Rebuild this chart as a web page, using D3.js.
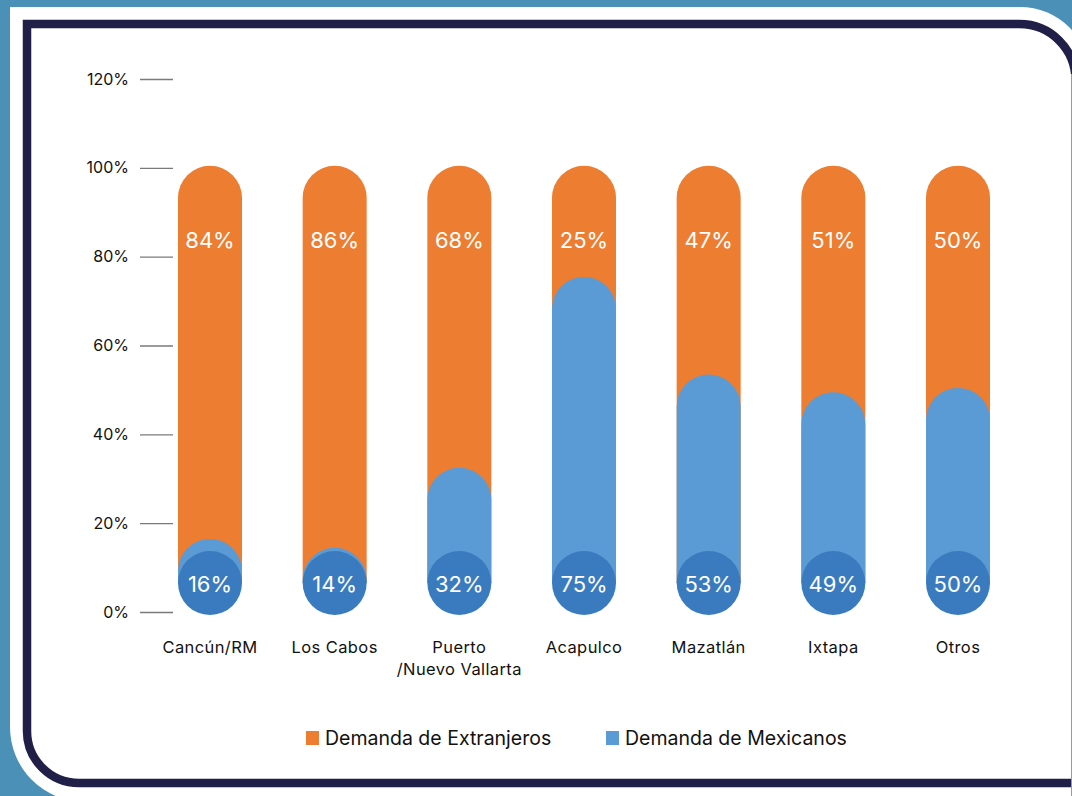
<!DOCTYPE html>
<html><head><meta charset="utf-8">
<script src="https://cdn.jsdelivr.net/npm/d3@7"></script>
<style>html,body{margin:0;padding:0;background:#4a90b7;}svg{display:block;}</style>
</head><body>
<svg id="c" width="1072" height="796"></svg>
<script>
const categories = ["Cancún/RM","Los Cabos","Puerto\n/Nuevo Vallarta","Acapulco","Mazatlán","Ixtapa","Otros"];
const extranjeros = [84,86,68,25,47,51,50];
const mexicanos = [16,14,32,75,53,49,50];
const yTicks = [0,20,40,60,80,100,120];
const seriesNames = ["Demanda de Extranjeros","Demanda de Mexicanos"];
const colors = {ext:"#ed7d31", mex:"#5b9bd5", circle:"#3a7bbf", navy:"#1f1f48", bg:"#4a90b7"};

const svg = d3.select("#c");
const W = 1072, H = 796;
const font = "Inter, 'Open Sans', sans-serif";

// background frame
svg.append("rect").attr("width",W).attr("height",H).attr("fill",colors.bg);
svg.append("path").attr("d","M10,7 H1020 A70,70 0 0 1 1090,77 V802 H85 A75,75 0 0 1 10,727 Z").attr("fill","#fff");
svg.append("path").attr("d","M27,24 H1019.5 A56,56 0 0 1 1075.5,80 V783 H79 A52,52 0 0 1 27,731 Z")
  .attr("fill","#fff").attr("stroke",colors.navy).attr("stroke-width",8.5);
svg.append("line").attr("x1",1071.5).attr("x2",1071.5).attr("y1",74).attr("y2",796)
  .attr("stroke","#9a9aa6").attr("stroke-width",1);

const y = d3.scaleLinear().domain([0,120]).range([612,79]);
const x = d3.scalePoint().domain(categories).range([210,958]);
const bw = 64, r = bw/2;
const circleY = y(0) - 29;

// y axis
const yAxis = d3.axisLeft(y).tickValues(yTicks).tickFormat(d=>d+"%").tickSize(33).tickPadding(11);
const ga = svg.append("g").attr("transform","translate(173,0)").call(yAxis);
ga.select(".domain").remove();
ga.selectAll(".tick line").attr("stroke","#7a7a7a").attr("stroke-width",1.3);
ga.selectAll(".tick text").attr("fill","#111").style("font-family",font).style("font-size","16px");

function capBar(cx, top, bottom){
  const x0 = cx - r, x1 = cx + r;
  return `M${x0},${bottom} L${x0},${top+r} A${r},${r} 0 0 1 ${x1},${top+r} L${x1},${bottom} Z`;
}

const data = categories.map((c,i)=>({c, e:extranjeros[i], m:mexicanos[i]}));
const g = svg.append("g");
g.selectAll("path.ext").data(data).join("path").attr("class","ext")
  .attr("d",d=>capBar(x(d.c), y(100)-2, circleY)).attr("fill",colors.ext);
g.selectAll("path.mex").data(data).join("path").attr("class","mex")
  .attr("d",d=>capBar(x(d.c), y(d.m)-2, circleY)).attr("fill",colors.mex);
g.selectAll("circle").data(data).join("circle")
  .attr("cx",d=>x(d.c)).attr("cy",circleY).attr("r",r).attr("fill",colors.circle);

g.selectAll("text.el").data(data).join("text").attr("class","el")
  .attr("x",d=>x(d.c)).attr("y",240).attr("dy","0.36em").attr("text-anchor","middle")
  .attr("fill","#fff").style("font-family",font).style("font-size","22px").text(d=>d.e+"%");
g.selectAll("text.ml").data(data).join("text").attr("class","ml")
  .attr("x",d=>x(d.c)).attr("y",circleY+1).attr("dy","0.36em").attr("text-anchor","middle")
  .attr("fill","#fff").style("font-family",font).style("font-size","22px").text(d=>d.m+"%");

// category labels
const cl = g.selectAll("text.cat").data(data).join("text").attr("class","cat")
  .attr("x",d=>x(d.c)).attr("y",653).attr("text-anchor","middle")
  .attr("fill","#111").style("font-family",font).style("font-size","16.5px").style("letter-spacing","0.4px");
cl.each(function(d){
  const lines = d.c.split("\n");
  const t = d3.select(this);
  lines.forEach((l,i)=>t.append("tspan").attr("x",x(d.c)).attr("dy", i===0?0:22).text(l));
});

// legend
const leg = [{n:seriesNames[0],c:colors.ext,x:306},{n:seriesNames[1],c:colors.mex,x:606}];
const lg = svg.append("g");
lg.selectAll("rect").data(leg).join("rect").attr("x",d=>d.x).attr("y",731).attr("width",13).attr("height",14).attr("fill",d=>d.c);
lg.selectAll("text").data(leg).join("text").attr("x",d=>d.x+19).attr("y",738).attr("dy","0.36em")
  .attr("fill","#111").style("font-family",font).style("font-size","19.5px").text(d=>d.n);
</script>
</body></html>
